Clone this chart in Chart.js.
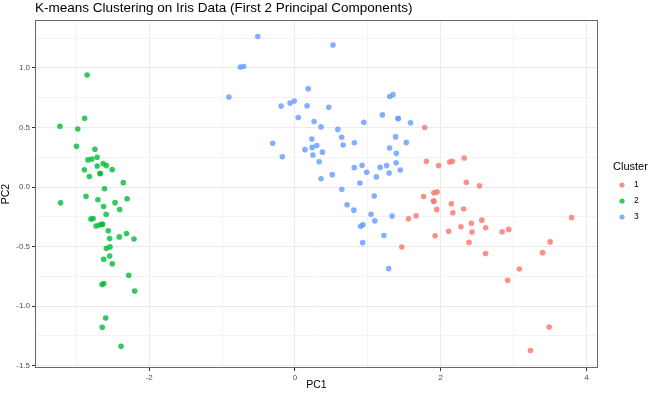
<!DOCTYPE html>
<html>
<head>
<meta charset="utf-8">
<script src="https://cdn.jsdelivr.net/npm/chart.js@4.4.1/dist/chart.umd.min.js"></script>
<style>
  html, body { margin: 0; padding: 0; background: #fff; }
  canvas { display: block; }
</style>
</head>
<body>
<canvas id="chart" width="654" height="394"></canvas>
<script>
// cluster 1 (red)
var cluster1PC1 = [1.464, 1.558, 2.531, 2.616, 1.971, 2.350, 3.397, 2.933, 2.321, 2.917, 1.662, 1.803, 2.165,
  1.904, 1.949, 3.487, 3.795, 2.428, 3.500, 2.276, 2.614, 2.123, 2.388, 2.842, 3.231, 2.159, 1.780, 3.077,
  2.145, 1.905, 2.108, 2.314, 1.922, 2.563, 2.419, 1.944, 1.764, 1.901];
var cluster1PC2 = [-0.504, -0.267, 0.010, -0.343, 0.180, 0.040, -0.551, -0.356, 0.244, -0.783, -0.242, 0.216, -0.216,
  -0.119, -0.041, -1.175, -0.257, -0.378, -0.461, -0.333, -0.558, 0.210, -0.465, -0.375, -1.374, 0.217, 0.500, -0.688,
  -0.140, -0.049, -0.372, -0.184, -0.409, -0.278, -0.305, -0.188, -0.079, -0.117];

// cluster 2 (green)
var cluster2PC1 = [-2.684, -2.714, -2.889, -2.745, -2.729, -2.281, -2.821, -2.626, -2.886, -2.673, -2.507, -2.613,
  -2.787, -3.225, -2.644, -2.386, -2.623, -2.648, -2.199, -2.588, -2.311, -2.543, -3.216, -2.303, -2.356, -2.508,
  -2.469, -2.562, -2.640, -2.632, -2.588, -2.410, -2.648, -2.597, -2.673, -2.867, -2.625, -2.800, -2.980, -2.590,
  -2.770, -2.852, -2.998, -2.405, -2.209, -2.715, -2.538, -2.840, -2.543, -2.704];
var cluster2PC2 = [-0.319, 0.177, 0.145, 0.318, -0.327, -0.741, 0.089, -0.163, 0.578, 0.114, -0.645, -0.015,
  0.235, 0.511, -1.178, -1.338, -0.811, -0.312, -0.873, -0.514, -0.391, -0.433, -0.133, -0.099, 0.037, 0.146,
  -0.131, -0.368, -0.312, 0.197, 0.180, -0.419, -0.819, -1.100, 0.114, -0.078, -0.606, -0.268, 0.487, -0.229,
  -0.264, 0.941, 0.342, -0.189, -0.437, 0.250, -0.503, 0.228, -0.579, -0.107];

// cluster 3 (blue)
var cluster3PC1 = [1.285, 0.932, 0.181, 1.087, 0.640, 1.095, -0.751, 1.043, -0.010, -0.511, 0.511, 0.262, 0.984,
  -0.174, 0.928, 0.660, 0.236, 0.944, 0.045, 1.116, 0.357, 1.298, 0.921, 0.715, 0.900, 1.332, 0.813, -0.306,
  -0.068, -0.190, 0.136, 1.380, 0.588, 0.807, 1.220, 0.815, 0.246, 0.166, 0.464, 0.891, 0.231, -0.705, 0.357,
  0.332, 0.376, 0.642, -0.907, 0.299,
  1.415, 0.521, 1.344, 1.585, 1.300, 1.199, 1.388, 1.258, 1.291, 1.444, 1.169, 1.415, 1.527, 1.390];
var cluster3PC2 = [-0.685, -0.318, 0.826, -0.075, 0.418, -0.284, 1.008, -0.228, 0.723, 1.265, 0.104, 0.550, 0.124,
  0.255, -0.467, 0.353, 0.333, 0.544, 0.584, 0.085, 0.069, 0.328, 0.183, -0.149, -0.329, -0.244, 0.163, 0.368,
  0.705, 0.680, 0.314, 0.421, 0.484, -0.194, -0.408, 0.372, 0.269, 0.682, 0.670, 0.034, 0.404, 1.012, 0.505,
  0.212, 0.293, -0.018, 0.756, 0.349,
  0.575, 1.193, 0.776, 0.539, 0.761, 0.606, 0.204, 0.180, 0.117, 0.143, 0.165, 0.575, 0.375, 0.283];

var clusterLabels = ['1', '2', '3'];
var clusterColors = ['rgba(248,118,109,0.8)', 'rgba(0,186,56,0.8)', 'rgba(97,156,255,0.8)'];

function toPoints(xs, ys) {
  return xs.map(function (x, i) { return { x: x, y: ys[i] }; });
}

var FONT = '"Liberation Sans", Arial, sans-serif';

var ggExtras = {
  id: 'ggExtras',
  afterDraw: function (chart) {
    var ctx = chart.ctx, a = chart.chartArea;
    ctx.save();
    // panel border
    ctx.strokeStyle = '#666';
    ctx.lineWidth = 1;
    ctx.strokeRect(a.left + 0.5, a.top + 0.5, a.right - a.left - 1, a.bottom - a.top - 1);
    // title
    ctx.fillStyle = '#000';
    ctx.textBaseline = 'middle';
    ctx.textAlign = 'left';
    ctx.font = '13.5px ' + FONT;
    ctx.fillText('K-means Clustering on Iris Data (First 2 Principal Components)', a.left, 8.5);
    // legend
    ctx.font = '11px ' + FONT;
    ctx.fillText('Cluster', 613, 167);
    ctx.font = '8.5px ' + FONT;
    clusterLabels.forEach(function (lab, i) {
      var y = 185 + i * 16;
      ctx.fillStyle = clusterColors[i];
      ctx.beginPath();
      ctx.arc(622, y, 2.6, 0, Math.PI * 2);
      ctx.fill();
      ctx.fillStyle = '#000';
      ctx.fillText(lab, 634, y);
    });
    ctx.restore();
  }
};

function isMajor(v, step) {
  return Math.abs(v / step - Math.round(v / step)) < 1e-6;
}

new Chart(document.getElementById('chart'), {
  type: 'scatter',
  data: {
    datasets: [
      { label: '1', data: toPoints(cluster1PC1, cluster1PC2), backgroundColor: clusterColors[0] },
      { label: '2', data: toPoints(cluster2PC1, cluster2PC2), backgroundColor: clusterColors[1] },
      { label: '3', data: toPoints(cluster3PC1, cluster3PC2), backgroundColor: clusterColors[2] }
    ]
  },
  options: {
    responsive: false,
    animation: false,
    devicePixelRatio: 1,
    layout: { padding: { top: 20, right: 56, bottom: 0, left: 0 } },
    elements: { point: { radius: 2.8, borderWidth: 0, hoverRadius: 2.8 } },
    plugins: { legend: { display: false }, tooltip: { enabled: false } },
    scales: {
      x: {
        type: 'linear',
        min: -3.567,
        max: 4.157,
        afterFit: function (s) { s.height = 26; },
        border: { display: false },
        grid: {
          color: function (c) { return isMajor(c.tick.value, 2) ? '#EBEBEB' : '#F3F3F3'; },
          tickColor: function (c) { return isMajor(c.tick.value, 2) ? '#333' : 'rgba(0,0,0,0)'; },
          tickLength: 3
        },
        ticks: {
          stepSize: 1,
          includeBounds: false,
          maxRotation: 0,
          autoSkip: false,
          padding: 2,
          color: '#4D4D4D',
          font: { family: FONT, size: 8 },
          callback: function (v) { return isMajor(v, 2) ? String(v) : ''; }
        },
        title: {
          display: true,
          text: 'PC1',
          color: '#000',
          font: { family: FONT, size: 10.5 },
          padding: { top: 0, bottom: 3 }
        }
      },
      y: {
        type: 'linear',
        min: -1.52,
        max: 1.403,
        afterFit: function (s) { s.width = 35; },
        border: { display: false },
        grid: {
          color: function (c) { return isMajor(c.tick.value, 0.5) ? '#EBEBEB' : '#F3F3F3'; },
          tickColor: function (c) { return isMajor(c.tick.value, 0.5) ? '#333' : 'rgba(0,0,0,0)'; },
          tickLength: 3
        },
        ticks: {
          stepSize: 0.25,
          includeBounds: false,
          autoSkip: false,
          padding: 2,
          color: '#4D4D4D',
          font: { family: FONT, size: 8 },
          callback: function (v) { return isMajor(v, 0.5) ? v.toFixed(1) : ''; }
        },
        title: {
          display: true,
          text: 'PC2',
          color: '#000',
          font: { family: FONT, size: 10.5 },
          padding: { top: 0, bottom: 1 }
        }
      }
    }
  },
  plugins: [ggExtras]
});
</script>
</body>
</html>
